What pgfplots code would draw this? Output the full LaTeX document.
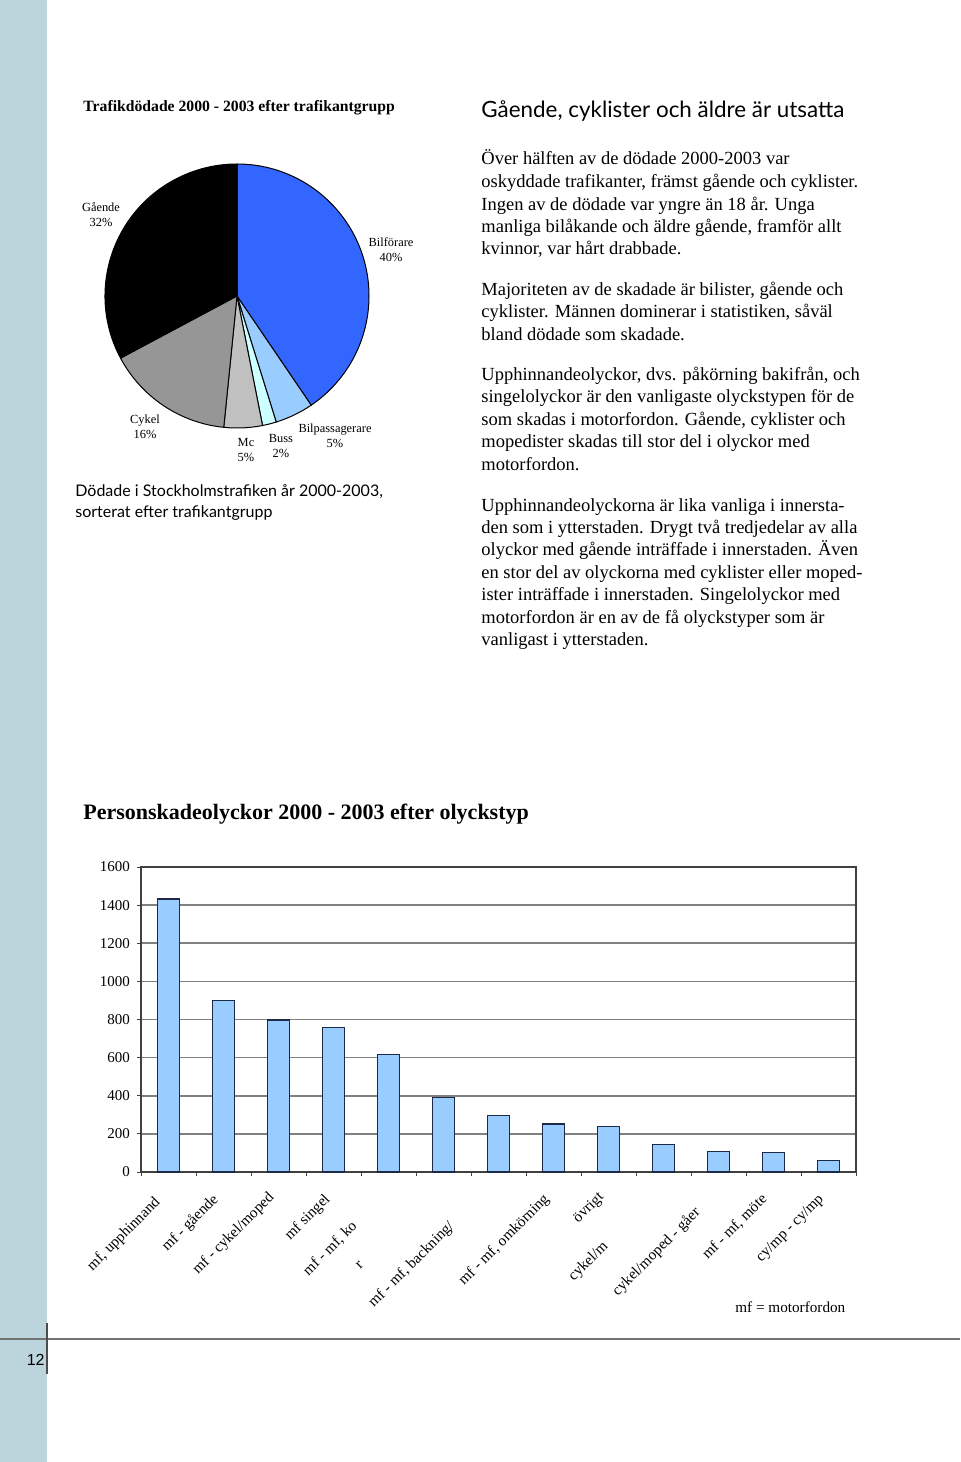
\documentclass[border=0pt]{standalone}
\usepackage{fontspec}
\setmainfont{Liberation Serif}
\setsansfont{Lato}
\newfontfamily\arialfont{Liberation Sans}
\usepackage{pgfplots}
\pgfplotsset{compat=1.18}
\definecolor{strip}{HTML}{BCD4DC}
\definecolor{bilf}{HTML}{3366FF}
\definecolor{bilp}{HTML}{99CCFF}
\definecolor{buss}{HTML}{CCFFFF}
\definecolor{mc}{HTML}{C0C0C0}
\definecolor{cykel}{HTML}{969696}
\definecolor{barfill}{HTML}{99CCFF}
\definecolor{baredge}{HTML}{1C2A48}
\newcommand{\bodyfont}{\fontsize{9.25}{11.3}\selectfont}
\newcommand{\pielab}{\fontsize{6.2}{7.5}\selectfont}
\begin{document}
\begin{tikzpicture}
\begin{scope}[x=0.5pt,y=-0.5pt]
\fill[white] (0,0) rectangle (960,1462);
\useasboundingbox (0,0) rectangle (960,1462);
\fill[strip] (0,0) rectangle (47,1462);
\draw[black!55, line width=0.6pt] (0,1339) -- (960,1339);
\draw[black!70, line width=0.6pt] (47,1323) -- (47,1374);
\node[anchor=mid east, inner sep=0, font=\arialfont\fontsize{8}{9}\selectfont] at (45,1361) {12};
% titles
\node[anchor=mid west, inner sep=0, font=\bfseries\fontsize{7.85}{9}\selectfont] at (83,107) {Trafikdödade 2000 - 2003 efter trafikantgrupp};
\node[anchor=mid west, inner sep=0, font=\sffamily\fontsize{11.2}{13}\selectfont] at (481,113) {Gående, cyklister och äldre är utsatta};
\node[anchor=mid west, inner sep=0, font=\sffamily\fontsize{8.0}{10}\selectfont] at (75,492) {Dödade i Stockholmstrafiken år 2000-2003,};
\node[anchor=mid west, inner sep=0, font=\sffamily\fontsize{8.0}{10}\selectfont] at (75,513) {sorterat efter trafikantgrupp};
% body text
\foreach \yy/\tt in {160/{Över hälften av de dödade 2000-2003 var},
183/{oskyddade trafikanter, främst gående och cyklister.},
206/{Ingen av de dödade var yngre än 18 år. Unga},
228/{manliga bilåkande och äldre gående, framför allt},
250/{kvinnor, var hårt drabbade.},
291/{Majoriteten av de skadade är bilister, gående och},
313/{cyklister. Männen dominerar i statistiken, såväl},
336/{bland dödade som skadade.},
376/{Upphinnandeolyckor, dvs. påkörning bakifrån, och},
398/{singelolyckor är den vanligaste olyckstypen för de},
421/{som skadas i motorfordon. Gående, cyklister och},
443/{mopedister skadas till stor del i olyckor med},
466/{motorfordon.},
507/{Upphinnandeolyckorna är lika vanliga i innersta-},
529/{den som i ytterstaden. Drygt två tredjedelar av alla},
551/{olyckor med gående inträffade i innerstaden. Även},
574/{en stor del av olyckorna med cyklister eller moped-},
596/{ister inträffade i innerstaden. Singelolyckor med},
619/{motorfordon är en av de få olyckstyper som är},
641/{vanligast i ytterstaden.}}
{\node[anchor=mid west, inner sep=0, font=\bodyfont] at (481,\yy) {\tt};}
% pie labels
\node[align=center, inner sep=0, font=\pielab] at (101,215) {Gående\\32\%};
\node[align=center, inner sep=0, font=\pielab] at (391,250) {Bilförare\\40\%};
\node[align=center, inner sep=0, font=\pielab] at (145,427) {Cykel\\16\%};
\node[align=center, inner sep=0, font=\pielab] at (246,450) {Mc\\5\%};
\node[align=center, inner sep=0, font=\pielab] at (281,446) {Buss\\2\%};
\node[align=center, inner sep=0, font=\pielab] at (335,436) {Bilpassagerare\\5\%};
% bar chart title and note
\node[anchor=mid west, inner sep=0, font=\bfseries\fontsize{11}{13}\selectfont] at (83,815) {Personskadeolyckor 2000 - 2003 efter olyckstyp};
\node[anchor=mid west, inner sep=0, font=\fontsize{7.6}{9}\selectfont] at (735,1308) {mf = motorfordon};
% x labels
\foreach \xx/\yy/\tt in {153/1195/{mf, upphinnand},211/1192/{mf - gående},267/1190/{mf - cykel/moped},323/1192/{mf singel},350/1219/{mf - mf, ko},359/1260/{r},447/1219/{mf - mf, backning/},542/1192/{mf - mf, omkörning},597/1190/{övrigt},601/1239/{cykel/m},693/1205/{cykel/moped - gåer},760/1192/{mf - mf, möte},817/1192/{cy/mp - cy/mp}}
{\node[rotate=45, anchor=north east, inner sep=0, font=\fontsize{7.6}{9}\selectfont] at (\xx,\yy) {\tt};}
\end{scope}

% pie chart
\begin{axis}[at={(118.5pt,-148pt)}, anchor=origin, hide axis, x=1pt, y=1pt,
  xmin=-70, xmax=70, ymin=-70, ymax=70, clip=false]
\addplot[draw=none] coordinates {(0,0)};
\filldraw[fill=bilf, draw=black, line width=0.5pt] (axis cs:0,0) -- ++(90:66pt) arc[start angle=90, end angle=-55.8, radius=66pt] -- cycle;
\filldraw[fill=bilp, draw=black, line width=0.5pt] (axis cs:0,0) -- ++(-55.8:66pt) arc[start angle=-55.8, end angle=-72.72, radius=66pt] -- cycle;
\filldraw[fill=buss, draw=black, line width=0.5pt] (axis cs:0,0) -- ++(-72.72:66pt) arc[start angle=-72.72, end angle=-78.84, radius=66pt] -- cycle;
\filldraw[fill=mc, draw=black, line width=0.5pt] (axis cs:0,0) -- ++(-78.84:66pt) arc[start angle=-78.84, end angle=-95.76, radius=66pt] -- cycle;
\filldraw[fill=cykel, draw=black, line width=0.5pt] (axis cs:0,0) -- ++(-95.76:66pt) arc[start angle=-95.76, end angle=-151.92, radius=66pt] -- cycle;
\filldraw[fill=black, draw=black, line width=0.5pt] (axis cs:0,0) -- ++(-151.92:66pt) arc[start angle=-151.92, end angle=-270, radius=66pt] -- cycle;
\end{axis}

% bar chart
\begin{axis}[at={(70.5pt,-586pt)}, anchor=south west, scale only axis,
  width=357.5pt, height=152.5pt,
  xmin=-0.5, xmax=12.5, ymin=0, ymax=1600,
  ytick={0,200,...,1600}, xtick={-0.5,0.5,...,12.5}, xticklabels={},
  ymajorgrids, grid style={color=black!50, line width=0.8pt},
  axis line style={draw=black!75, line width=0.6pt},
  tick align=outside, tick pos=left, major tick length=2pt,
  tick style={black!75, line width=0.5pt},
  yticklabel style={font=\fontsize{7.5}{9}\selectfont},
  /pgf/number format/assume math mode=true,
  /pgf/number format/1000 sep={},
  ybar, bar width=11pt]
\addplot[fill=barfill, draw=baredge, line width=0.6pt] coordinates {(0,1432) (1,900) (2,797) (3,757) (4,616) (5,390) (6,295) (7,252) (8,238) (9,143) (10,108) (11,101) (12,61)};
\end{axis}
\end{tikzpicture}
\end{document}
